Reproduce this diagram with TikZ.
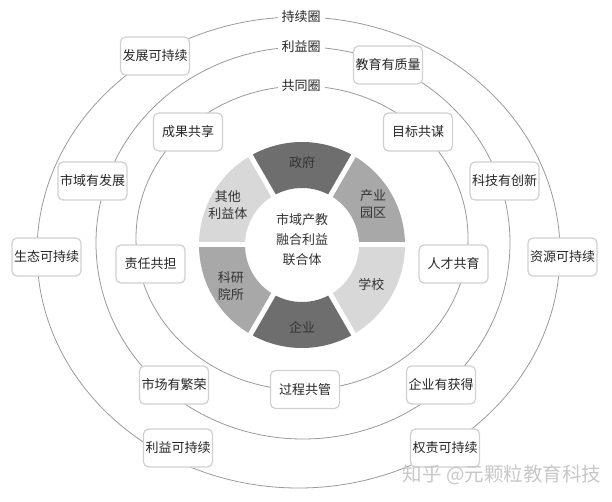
\documentclass[tikz,border=0pt]{standalone}
\usepackage{fontspec}
\setmainfont{Noto Sans CJK SC}
\usepackage{tikz}
\usetikzlibrary{calc,positioning}
\definecolor{segDark}{HTML}{6E6E6E}
\definecolor{segMid}{HTML}{A8A8A8}
\definecolor{segLight}{HTML}{D8D8D8}
\definecolor{loopGray}{HTML}{9A9A9A}
\definecolor{boxEdge}{HTML}{D0D0D0}

\begin{document}
\begin{tikzpicture}[x=1pt,y=1pt,
    loop/.style={loopGray,line width=0.8pt},
    goal/.style={draw=boxEdge,line width=1.2pt,rounded corners=5pt,fill=white,
      minimum width=69pt,minimum height=38pt,inner sep=0pt,
      font=\fontsize{13}{15}\selectfont,text=black!85},
    tag/.style={fill=white,inner sep=4pt,font=\fontsize{13}{15}\selectfont,text=black!85},
    seglab/.style={align=center,font=\fontsize{13}{17}\selectfont,text=black!80}]
  \useasboundingbox (0,0) rectangle (612,501);
  % the three loops
  \draw[loop] (298.5,248.5) ellipse [x radius=261.5pt,y radius=235.5pt];
  \draw[loop] (303,258) ellipse [x radius=207pt,y radius=196pt];
  \draw[loop] (302,263) ellipse [x radius=166pt,y radius=152pt];
  % ring of partners
  \coordinate (O) at (302,256);
  \foreach \a/\c in {0/segMid,60/segDark,120/segLight,180/segMid,240/segDark,300/segLight}
    \fill[\c] ($(O)+(\a:103pt)$) arc[start angle=\a,end angle=\a+60,radius=103pt]
      -- ($(O)+(\a+60:57pt)$) arc[start angle=\a+60,end angle=\a,radius=57pt] -- cycle;
  \foreach \a in {0,60,...,300}
    \draw[white,line width=5pt] (O) -- ($(O)+(\a:106pt)$);
  \node[seglab] (gov) at ($(O)+(90:82pt)$) {政府};
  \node[seglab] (park) at ($(O)+(30:82pt)$) {产业\\园区};
  \node[seglab] (school) at ($(O)+(-30:80pt)$) {学校};
  \node[seglab] (firm) at ($(O)+(-90:82pt)$) {企业};
  \node[seglab] (lab) at ($(O)+(210:82pt)$) {科研\\院所};
  \node[seglab] (other) at ($(O)+(152:84pt)$) {其他\\利益体};
  \node[seglab,font=\fontsize{13}{20}\selectfont] (core) at (302,261) {市域产教\\融合利益\\联合体};
  % loop names
  \node[tag] (keep) at (301,484) {持续圈};
  \node[tag] (gain) at (301,454) {利益圈};
  \node[tag] (share) at (301,415) {共同圈};
  % outer loop
  \node[goal] (dev) at (155,445) {发展可持续};
  \node[goal] (eco) at (46.5,244) {生态可持续};
  \node[goal] (res) at (562.5,244) {资源可持续};
  \node[goal] (ben) at (178,53) {利益可持续};
  \node[goal] (duty) at (445,53) {权责可持续};
  % middle loop
  \node[goal] (edu) at (388,436) {教育有质量};
  \node[goal] (city) at (92.5,320) {市域有发展};
  \node[goal] (tech) at (504.5,320) {科技有创新};
  \node[goal] (mkt) at (174,116) {市场有繁荣};
  \node[goal] (ent) at (441,116) {企业有获得};
  % inner loop
  \node[goal] (fruit) at (188,369) {成果共享};
  \node[goal] (aim) at (418,369) {目标共谋};
  \node[goal] (resp) at (150.5,237) {责任共担};
  \node[goal] (talent) at (453.5,237) {人才共育};
  \node[goal] (proc) at (305,111.5) {过程共管};
  \node[text=black!22,font=\fontsize{19.5}{21}\selectfont] (mark) at (502,26) {知乎 @元颗粒教育科技};
\end{tikzpicture}
\end{document}
